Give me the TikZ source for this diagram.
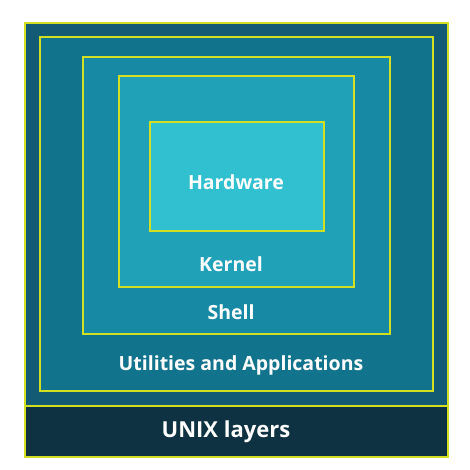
\documentclass[tikz,border=0pt]{standalone}
\usepackage{fontspec}
\setmainfont{Open Sans}
\definecolor{layerA}{HTML}{135B75}
\definecolor{layerB}{HTML}{12738C}
\definecolor{layerC}{HTML}{1789A4}
\definecolor{layerD}{HTML}{20A1B8}
\definecolor{layerE}{HTML}{31C0D0}
\definecolor{band}{HTML}{0E3241}
\definecolor{edge}{HTML}{D2E021}
\begin{document}
\begin{tikzpicture}[x=1pt,y=-1pt,
	layer/.style={draw=edge,line width=1.4pt},
	lbl/.style={text=white,font=\bfseries\fontsize{19.5}{23}\selectfont}]
	\useasboundingbox (0,0) rectangle (469,470);
	% outer frame and bottom band
	\draw[layer,fill=layerA] (25,23) rectangle (448,457);
	\draw[layer,fill=band] (25,406) rectangle (448,457);
	% nested layers
	\draw[layer,fill=layerB] (40,37) rectangle (433,391);
	\draw[layer,fill=layerC] (83,57) rectangle (390,334);
	\draw[layer,fill=layerD] (119,76) rectangle (354,287);
	\draw[layer,fill=layerE] (150,122) rectangle (324,231);
	% labels
	\node[lbl] (hw) at (236,182) {Hardware};
	\node[lbl] (kernel) at (231,264) {Kernel};
	\node[lbl] (shell) at (231,312) {Shell};
	\node[lbl] (util) at (241,365) {Utilities and Applications};
	\node[lbl,font=\bfseries\fontsize{22}{26}\selectfont] (unix) at (226,432) {UNIX layers};
\end{tikzpicture}
\end{document}
